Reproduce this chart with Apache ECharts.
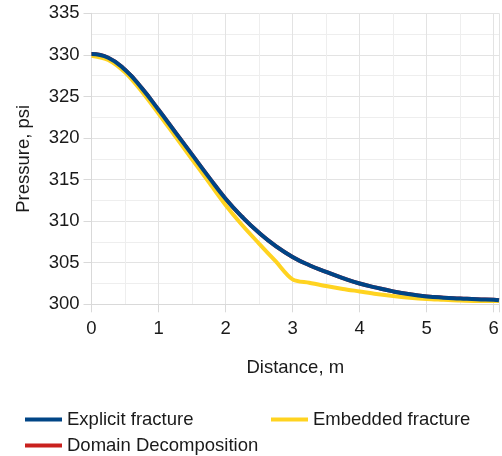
<!DOCTYPE html>
<html>
<head>
<meta charset="utf-8">
<script src="https://cdn.jsdelivr.net/npm/echarts@6/dist/echarts.min.js"></script>
<style>
  html, body { margin: 0; padding: 0; background: #fff; }
  #chart { width: 502px; height: 456px; }
</style>
</head>
<body>
<div id="chart"></div>
<script>
// distance along the fracture, m
const distance = [0, 0.25, 0.5, 0.75, 1, 1.25, 1.5, 1.75, 2, 2.25, 2.5, 2.75, 3, 3.25, 3.5, 3.75, 4, 4.25, 4.5, 4.75, 5, 5.25, 5.5, 5.75, 6, 6.08];
// pressure, psi
const explicitFracture = [330.1, 329.65, 328.2, 326.0, 323.4, 320.7, 318.0, 315.3, 312.7, 310.5, 308.6, 307.0, 305.7, 304.7, 303.9, 303.15, 302.5, 302.0, 301.55, 301.2, 300.95, 300.8, 300.7, 300.6, 300.55, 300.5];
const embeddedFracture = [329.9, 329.4, 327.9, 325.6, 322.95, 320.2, 317.45, 314.7, 311.95, 309.5, 307.3, 305.15, 303.0, 302.6, 302.2, 301.85, 301.55, 301.25, 301.0, 300.8, 300.65, 300.55, 300.45, 300.4, 300.4, 300.4];
// lies under the explicit fracture curve
const domainDecomposition = [330.1, 329.65, 328.2, 326.0, 323.4, 320.7, 318.0, 315.3, 312.7, 310.5, 308.6, 307.0, 305.7, 304.7, 303.9, 303.15, 302.5, 302.0, 301.55, 301.2, 300.95, 300.8, 300.7, 300.6, 300.55, 300.5];

const font = 'Liberation Sans, Arial, sans-serif';
const textColor = '#1a1a1a';
const fontSize = 18.5;

function pairs(ys) {
    return distance.map((x, i) => [x, ys[i]]);
}

function legendItem(name, left, top) {
    return {
        data: [name],
        left: left,
        top: top,
        icon: 'rect',
        itemWidth: 37,
        itemHeight: 4,
        itemGap: 6,
        textStyle: { fontFamily: font, fontSize: fontSize, color: textColor }
    };
}

const chart = echarts.init(document.getElementById('chart'));
chart.setOption({
    animation: false,
    grid: { left: 91.5, right: 3, top: 13.3, bottom: 151.7 },
    legend: [
        legendItem('Explicit fracture', 20, 405),
        legendItem('Embedded fracture', 266, 405),
        legendItem('Domain Decomposition', 20, 431)
    ],
    xAxis: {
        type: 'value',
        min: 0,
        max: 6.08,
        interval: 1,
        name: 'Distance, m',
        nameLocation: 'middle',
        nameGap: 54,
        nameTextStyle: { fontFamily: font, fontSize: fontSize, color: textColor },
        axisLine: { show: true, lineStyle: { color: '#d9d9d9' } },
        axisTick: { show: true, length: 8, lineStyle: { color: '#d9d9d9' } },
        axisLabel: {
            margin: 15,
            fontFamily: font, fontSize: fontSize, color: textColor,
            formatter: v => (Math.abs(v - Math.round(v)) < 1e-6 ? String(Math.round(v)) : '')
        },
        splitLine: { show: true, lineStyle: { color: '#e3e3e3' } },
        minorTick: { show: false, splitNumber: 2 },
        minorSplitLine: { show: true, lineStyle: { color: '#eeeeee' } }
    },
    yAxis: {
        type: 'value',
        min: 300,
        max: 335,
        interval: 5,
        name: 'Pressure, psi',
        nameLocation: 'middle',
        nameGap: 58,
        nameTextStyle: { fontFamily: font, fontSize: fontSize, color: textColor },
        axisLine: { show: true, lineStyle: { color: '#d9d9d9' } },
        axisTick: { show: true, length: 8, lineStyle: { color: '#d9d9d9' } },
        axisLabel: { margin: 12, fontFamily: font, fontSize: fontSize, color: textColor },
        splitLine: { show: true, lineStyle: { color: '#e3e3e3' } },
        minorTick: { show: false, splitNumber: 2 },
        minorSplitLine: { show: true, lineStyle: { color: '#eeeeee' } }
    },
    series: [
        {
            name: 'Explicit fracture',
            type: 'line',
            z: 4,
            smooth: 0.5,
            showSymbol: false,
            color: '#004586',
            lineStyle: { width: 4 },
            data: pairs(explicitFracture)
        },
        {
            name: 'Embedded fracture',
            type: 'line',
            z: 3,
            smooth: 0.3,
            showSymbol: false,
            color: '#ffd320',
            lineStyle: { width: 4 },
            data: pairs(embeddedFracture)
        },
        {
            name: 'Domain Decomposition',
            type: 'line',
            z: 2,
            smooth: 0.5,
            showSymbol: false,
            color: '#c9211e',
            lineStyle: { width: 4 },
            data: pairs(domainDecomposition)
        }
    ]
});
</script>
</body>
</html>
